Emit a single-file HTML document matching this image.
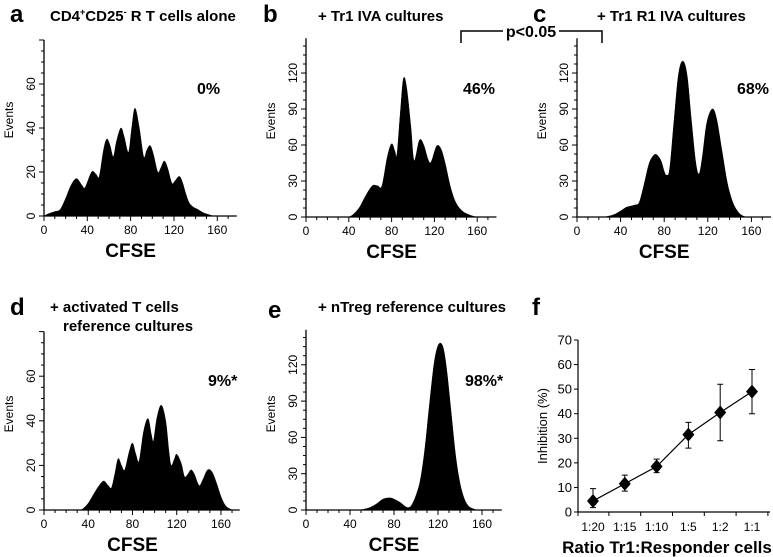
<!DOCTYPE html>
<html><head><meta charset="utf-8"><style>
html,body{margin:0;padding:0;background:#fff;}
svg{display:block;font-family:"Liberation Sans",Arial,sans-serif;}
</style></head><body>
<svg id="fig" width="773" height="557" viewBox="0 0 773 557" xmlns="http://www.w3.org/2000/svg"></svg>
<script>
// ---- Histogram data (CFSE value, events) ----
const histA_x = [0,4,10,15,20,25,30,35,38,44,48,51,55,58,61,64,67,71,74,78,81,84,88,92,95,98,101,105,108,111,114,118,121,125,128,131,134,138,142,147,153,156];
const histA_y = [0,1,2,3,8,14,17,14,13,20,19,18,30,35,32,27,34,40,36,29,40,49,40,27,30,32,28,20,22,25,22,15,16,18,15,10,6,4,3,1.5,0.5,0];
const histB_x = [40,44,50,56,62,67,71,76,80,83,85,88,91,94,98,101,106,110,114,117,122,126,130,135,140,146,152,157,160];
const histB_y = [0,2,8,18,26,26,26,50,61,55,52,85,115,108,75,47,64,60,48,46,59,57,45,25,12,5,2,0.5,0];
const histC_x = [25,28,34,40,45,49,53,57,61,66,70,73,77,80,82,85,89,93,97,101,105,109,112,115,119,124,128,133,138,143,148,152,155];
const histC_y = [0,0.5,2,5,8,9,10,12,25,44,51,52,47,38,35,40,80,118,130,118,80,45,36,50,78,90,82,55,28,12,4,1,0];
const histD_x = [32,35,40,46,50,54,58,61,64,67,70,73,77,80,83,86,90,94,97,99,102,106,110,113,115,118,120,124,127,130,133,136,139,141,144,148,152,156,160,164,168,171];
const histD_y = [0,0.5,3,8,11,13,11,10,16,23,20,18,26,30,25,22,35,41,34,31,41,47,40,26,20,23,25,21,15,16,18,16,12,11,14,18,17,12,6,2,0.5,0];
const histE_x = [48,52,58,64,70,76,80,86,90,93,96,100,104,108,112,116,119,122,125,128,132,136,140,144,148,152,155];
const histE_y = [0,0.5,2,5,9,10,9,6,3,2,4,12,25,50,85,118,133,138,133,115,80,45,22,9,3,1,0];
// ---- Panel f data ----
const ratioLabels = ["1:20","1:15","1:10","1:5","1:2","1:1"];
const inhibMean = [4.5,11.5,18.5,31.5,40.5,49];
const inhibLow = [1.8,8.5,16,26,29,40];
const inhibHigh = [9.5,15,21.5,36.5,52,58];
const fYTicks = [0,10,20,30,40,50,60,70];
const histXTicks = [0,40,80,120,160];
const yTicksSmall = [0,20,40,60];
const yTicksLarge = [0,30,60,90,120];

const NS="http://www.w3.org/2000/svg";
const svg=document.getElementById('fig');
function mk(tag,attrs,parent){const e=document.createElementNS(NS,tag);for(const k in attrs)e.setAttribute(k,attrs[k]);(parent||svg).appendChild(e);return e;}
function txt(s,attrs,parent){const t=mk('text',attrs,parent);t.textContent=s;return t;}

function smoothPath(pts){
  let d=`M${pts[0][0]},${pts[0][1]}`;
  for(let i=0;i<pts.length-1;i++){
    const p0=pts[Math.max(0,i-1)],p1=pts[i],p2=pts[i+1],p3=pts[Math.min(pts.length-1,i+2)];
    const c1x=p1[0]+(p2[0]-p0[0])/6,c1y=p1[1]+(p2[1]-p0[1])/6;
    const c2x=p2[0]-(p3[0]-p1[0])/6,c2y=p2[1]-(p3[1]-p1[1])/6;
    d+=` C${c1x},${c1y} ${c2x},${c2y} ${p2[0]},${p2[1]}`;
  }
  return d;
}

function histPanel(cfg){
  const g=mk('g',{},svg);
  
  
  const X=v=>cfg.x0+v*cfg.sx, Y=v=>cfg.y0-v*cfg.sy;
  const pts=cfg.xs.map((v,i)=>[X(v),Math.min(cfg.y0,Y(cfg.ys[i]))]);
  let d=smoothPath(pts)+` L${X(cfg.xs[cfg.xs.length-1])},${cfg.y0} L${X(cfg.xs[0])},${cfg.y0} Z`;
  const h=mk('path',{d:d,fill:'#000',stroke:'#000','stroke-width':0.5},g);
  
  
  const top=Y(cfg.ymax), right=X(cfg.xmax);
  const ax=mk('line',{x1:cfg.x0,y1:cfg.y0,x2:right,y2:cfg.y0,stroke:'#000','stroke-width':1.3},g);
  
  
  const ay=mk('line',{x1:cfg.x0,y1:cfg.y0,x2:cfg.x0,y2:top,stroke:'#000','stroke-width':1.3},g);
  
  
  for(let v=0;v<=cfg.xmax;v+=10){const maj=v%40===0;mk('line',{x1:X(v),x2:X(v),y1:cfg.y0,y2:cfg.y0+(maj?5:3),stroke:'#000','stroke-width':1},g);}
  for(let v=0;v<=cfg.ymax+0.01;v+=cfg.yminor){const maj=Math.abs(v/cfg.ymajor-Math.round(v/cfg.ymajor))<0.01;mk('line',{x1:cfg.x0,x2:cfg.x0-(maj?5:3),y1:Y(v),y2:Y(v),stroke:'#000','stroke-width':1},g);}
  histXTicks.forEach(v=>{const t=txt(String(v),{x:X(v),y:cfg.y0+18,'text-anchor':'middle','font-size':12},g);
    
    });
  cfg.yticks.forEach(v=>{const t=txt(String(v),{x:0,y:0,'text-anchor':'middle','font-size':12,transform:`translate(${cfg.x0-9},${Y(v)}) rotate(-90)`},g);
    
    });
  const yt=txt('Events',{x:0,y:0,'text-anchor':'middle','font-size':12,transform:`translate(${cfg.x0-31},${cfg.y0-96}) rotate(-90)`},g);
  
  
  const xt=txt('CFSE',{x:X(80),y:cfg.y0+41,'text-anchor':'middle','font-size':19,'font-weight':'bold'},g);
  
  
  const pc=txt(cfg.pct,{x:cfg.px,y:cfg.py,'font-size':16,'font-weight':'bold'},g);
  
  
  const L=txt(cfg.letter,{x:cfg.lx,y:cfg.ly,'font-size':24,'font-weight':'bold'},g);
  
  
  cfg.titles.forEach(tt=>{const t=txt('',{x:tt[1],y:tt[2],'font-size':15,'font-weight':'bold'},g);
    
    
    if(tt[0]==='CD'){t.innerHTML='CD4<tspan font-size="9" dy="-6">+</tspan><tspan dy="6">CD25</tspan><tspan font-size="9" dy="-6">-</tspan><tspan dy="6"> R T cells alone</tspan>';}
    else t.textContent=tt[0];});
}

histPanel({name:'panel-a',x0:44,y0:216,sx:1.083,sy:2.2,ymax:80,xmax:178,yminor:5,ymajor:20,yticks:yTicksSmall,xs:histA_x,ys:histA_y,pct:'0%',px:197,py:94,letter:'a',lx:10,ly:22,titles:[['CD',50,21]]});
histPanel({name:'panel-b',x0:306,y0:217,sx:1.07,sy:1.2,ymax:149,xmax:178,yminor:7.5,ymajor:30,yticks:yTicksLarge,xs:histB_x,ys:histB_y,pct:'46%',px:463,py:94,letter:'b',lx:263,ly:22,titles:[['+ Tr1 IVA cultures',318,21]]});
histPanel({name:'panel-c',x0:577,y0:217,sx:1.09,sy:1.2,ymax:149,xmax:178,yminor:7.5,ymajor:30,yticks:yTicksLarge,xs:histC_x,ys:histC_y,pct:'68%',px:737,py:94,letter:'c',lx:533,ly:22,titles:[['+ Tr1 R1 IVA cultures',597,21]]});
histPanel({name:'panel-d',x0:44,y0:510,sx:1.106,sy:2.23,ymax:80,xmax:177,yminor:5,ymajor:20,yticks:yTicksSmall,xs:histD_x,ys:histD_y,pct:'9%*',px:208,py:386,letter:'d',lx:10,ly:315,titles:[['+ activated T cells',50,312],['reference cultures',63,331]]});
histPanel({name:'panel-e',x0:306,y0:510,sx:1.1,sy:1.21,ymax:149,xmax:178,yminor:7.5,ymajor:30,yticks:yTicksLarge,xs:histE_x,ys:histE_y,pct:'98%*',px:465,py:386,letter:'e',lx:268,ly:318,titles:[['+ nTreg reference cultures',318,312]]});

// p<0.05 bracket
const br=mk('g',{},svg);


mk('path',{d:'M461,43 L461,31 L602,31 L602,43',fill:'none',stroke:'#000','stroke-width':1.5},br);
mk('rect',{x:503,y:22,width:56,height:18,fill:'#fff'},br);
const pv=txt('p<0.05',{x:531,y:37,'text-anchor':'middle','font-size':16,'font-weight':'bold'},br);



// Panel f
const gf=mk('g',{},svg);


const fx0=578,fy0=512,fsy=(512-340)/70,fstep=31.8,fc0=593;
const FX=i=>fc0+i*fstep, FY=v=>fy0-v*fsy;
const fax=mk('line',{x1:fx0,y1:fy0,x2:770,y2:fy0,stroke:'#000','stroke-width':1.2},gf);


const fay=mk('line',{x1:fx0,y1:fy0,x2:fx0,y2:FY(70),stroke:'#000','stroke-width':1.2},gf);


fYTicks.forEach(v=>{mk('line',{x1:fx0-4,x2:fx0,y1:FY(v),y2:FY(v),stroke:'#000'},gf);
  const t=txt(String(v),{x:fx0-6,y:FY(v)+4.5,'text-anchor':'end','font-size':13},gf);
  
  });
ratioLabels.forEach((s,i)=>{mk('line',{x1:FX(i)+fstep/2,x2:FX(i)+fstep/2,y1:fy0,y2:fy0+4,stroke:'#000'},gf);
  const t=txt(s,{x:FX(i),y:fy0+19,'text-anchor':'middle','font-size':12},gf);
  
  });
mk('line',{x1:fx0,x2:fx0,y1:fy0,y2:fy0+4,stroke:'#000'},gf);
const fyt=txt('Inhibition (%)',{x:0,y:0,'text-anchor':'middle','font-size':13,transform:`translate(547,${FY(35)}) rotate(-90)`},gf);


const fxt=txt('Ratio Tr1:Responder cells',{x:667,y:553,'text-anchor':'middle','font-size':17,'font-weight':'bold'},gf);


const fl=txt('f',{x:532,y:315,'font-size':24,'font-weight':'bold'},gf);


const ln=mk('polyline',{points:inhibMean.map((v,i)=>`${FX(i)},${FY(v)}`).join(' '),fill:'none',stroke:'#000','stroke-width':1.2},gf);


inhibMean.forEach((v,i)=>{
  const x=FX(i);
  const eb=mk('path',{d:`M${x},${FY(inhibLow[i])} L${x},${FY(inhibHigh[i])} M${x-3},${FY(inhibLow[i])} L${x+3},${FY(inhibLow[i])} M${x-3},${FY(inhibHigh[i])} L${x+3},${FY(inhibHigh[i])}`,stroke:'#000','stroke-width':1,fill:'none'},gf);
  
  
  const y=FY(v);
  const m=mk('path',{d:`M${x},${y-7} L${x+6},${y} L${x},${y+7} L${x-6},${y} Z`,fill:'#000'},gf);
  
  
});
</script>
</body></html>
